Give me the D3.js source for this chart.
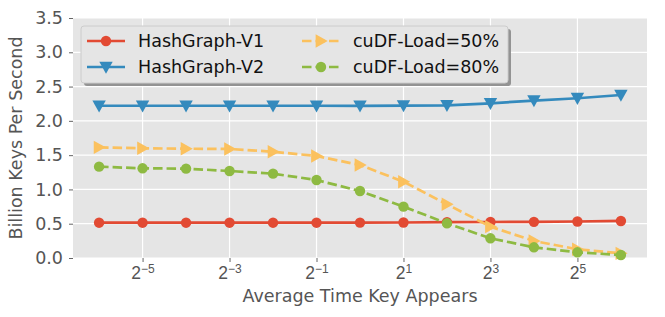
<!DOCTYPE html>
<html><head><meta charset="utf-8">
<script src="https://cdn.jsdelivr.net/npm/d3@7"></script>
<style>body{margin:0;background:#fff;} svg{display:block;font-family:"DejaVu Sans",sans-serif;}</style>
</head><body>
<script>
const exps = [-6,-5,-4,-3,-2,-1,0,1,2,3,4,5,6];
const hashV1 = [0.515,0.515,0.515,0.515,0.515,0.515,0.516,0.518,0.522,0.525,0.527,0.532,0.54];
const hashV2 = [2.22,2.22,2.22,2.22,2.22,2.22,2.218,2.222,2.227,2.256,2.295,2.33,2.377];
const cudf50 = [1.614,1.60,1.594,1.59,1.55,1.487,1.356,1.113,0.783,0.457,0.248,0.127,0.068];
const cudf80 = [1.332,1.308,1.303,1.269,1.23,1.137,0.977,0.749,0.506,0.287,0.156,0.083,0.044];
const yTicks = [0,0.5,1.0,1.5,2.0,2.5,3.0,3.5];
const xTicks = [-5,-3,-1,1,3,5];
const series = [
  {name:"HashGraph-V1", values:hashV1, color:"#E24A33", marker:"circle", dash:null},
  {name:"HashGraph-V2", values:hashV2, color:"#348ABD", marker:"tridown", dash:null},
  {name:"cuDF-Load=50%", values:cudf50, color:"#FBC15E", marker:"triright", dash:"9.5,4"},
  {name:"cuDF-Load=80%", values:cudf80, color:"#8EBA42", marker:"circle", dash:"9.5,4"}
];
const W=665,H=317, L=73,R=647,T=18,B=258;
const FS="17.5px";
const svg=d3.select("body").append("svg").attr("width",W).attr("height",H);
const x=d3.scaleLinear().domain([-6.6,6.6]).range([L,R]);
const y=d3.scaleLinear().domain([0,3.5]).range([B,T]);
svg.append("rect").attr("x",L).attr("y",T).attr("width",R-L).attr("height",B-T).attr("fill","#E5E5E5");
const g=svg.append("g");
g.selectAll(".gy").data(yTicks).join("line").attr("x1",L).attr("x2",R).attr("y1",d=>y(d)).attr("y2",d=>y(d)).attr("stroke","#fff").attr("stroke-width",1.2);
g.selectAll(".gx").data(xTicks).join("line").attr("y1",T).attr("y2",B).attr("x1",d=>x(d)).attr("x2",d=>x(d)).attr("stroke","#fff").attr("stroke-width",1.2);
// axes
const ya=svg.append("g").attr("transform",`translate(${L},0)`).call(d3.axisLeft(y).tickValues(yTicks).tickFormat(d3.format(".1f")).tickSize(4).tickPadding(6));
const xa=svg.append("g").attr("transform",`translate(0,${B})`).call(d3.axisBottom(x).tickValues(xTicks).tickFormat("").tickSize(4));
[ya,xa].forEach(a=>{a.select(".domain").remove();a.selectAll(".tick line").attr("stroke","#555").attr("stroke-width",0.9);
 a.selectAll(".tick text").attr("fill","#555").style("font-size",FS).style("font-family","DejaVu Sans");});
xa.selectAll(".tick").append("text").attr("y",21).attr("text-anchor","middle").attr("fill","#555").style("font-size",FS)
 .each(function(d){const t=d3.select(this);t.append("tspan").text("2");t.append("tspan").attr("dy","-0.5em").style("font-size","12px").text(d<0?"\u2212"+Math.abs(d):String(d));});
svg.append("text").attr("x",(L+R)/2).attr("y",302).attr("text-anchor","middle").attr("fill","#555").style("font-size",FS).text("Average Time Key Appears");
svg.append("text").attr("transform",`translate(22,${(T+B)/2}) rotate(-90)`).attr("text-anchor","middle").attr("fill","#555").style("font-size",FS).text("Billion Keys Per Second");
function marker(sel,type,color,s){
  if(type==="circle") sel.append("circle").attr("r",s).attr("fill",color);
  else if(type==="tridown") sel.append("path").attr("d",`M${-s},${-s*0.8}L${s},${-s*0.8}L0,${s}Z`).attr("fill",color);
  else sel.append("path").attr("d",`M${-s*0.8},${-s}L${s},0L${-s*0.8},${s}Z`).attr("fill",color);
}
const line=d3.line().x((d,i)=>x(exps[i])).y(d=>y(d));
series.forEach(s=>{
  g.append("path").datum(s.values).attr("d",line).attr("fill","none").attr("stroke",s.color).attr("stroke-width",2.7).attr("stroke-dasharray",s.dash);
  const m=g.selectAll(null).data(s.values).join("g").attr("transform",(d,i)=>`translate(${x(exps[i])},${y(d)})`);
  m.each(function(){marker(d3.select(this),s.marker,s.color,s.marker==="circle"?5.2:6.7);});
});
// legend
const lg=svg.append("g");
lg.append("rect").attr("x",84).attr("y",29).attr("width",427).attr("height",57).attr("rx",3).attr("fill","#8a8a8a").attr("opacity",0.9);
lg.append("rect").attr("x",81).attr("y",26).attr("width",427).attr("height",57).attr("rx",3).attr("fill","#E5E5E5").attr("stroke","#cccccc").attr("stroke-width",1);
const pos=[[87,41],[87,67],[302,41],[302,67]];
series.forEach((s,i)=>{
  const [lx,ly]=pos[i];
  lg.append("line").attr("x1",lx).attr("x2",lx+38).attr("y1",ly).attr("y2",ly).attr("stroke",s.color).attr("stroke-width",2.7).attr("stroke-dasharray",s.dash?"9.5,4":null);
  const m=lg.append("g").attr("transform",`translate(${lx+19},${ly})`);
  marker(m,s.marker,s.color,s.marker==="circle"?5.2:6.7);
  lg.append("text").attr("x",lx+51).attr("y",ly).attr("dy","0.35em").attr("fill","#111").style("font-size",FS).text(s.name);
});
</script>
</body></html>
